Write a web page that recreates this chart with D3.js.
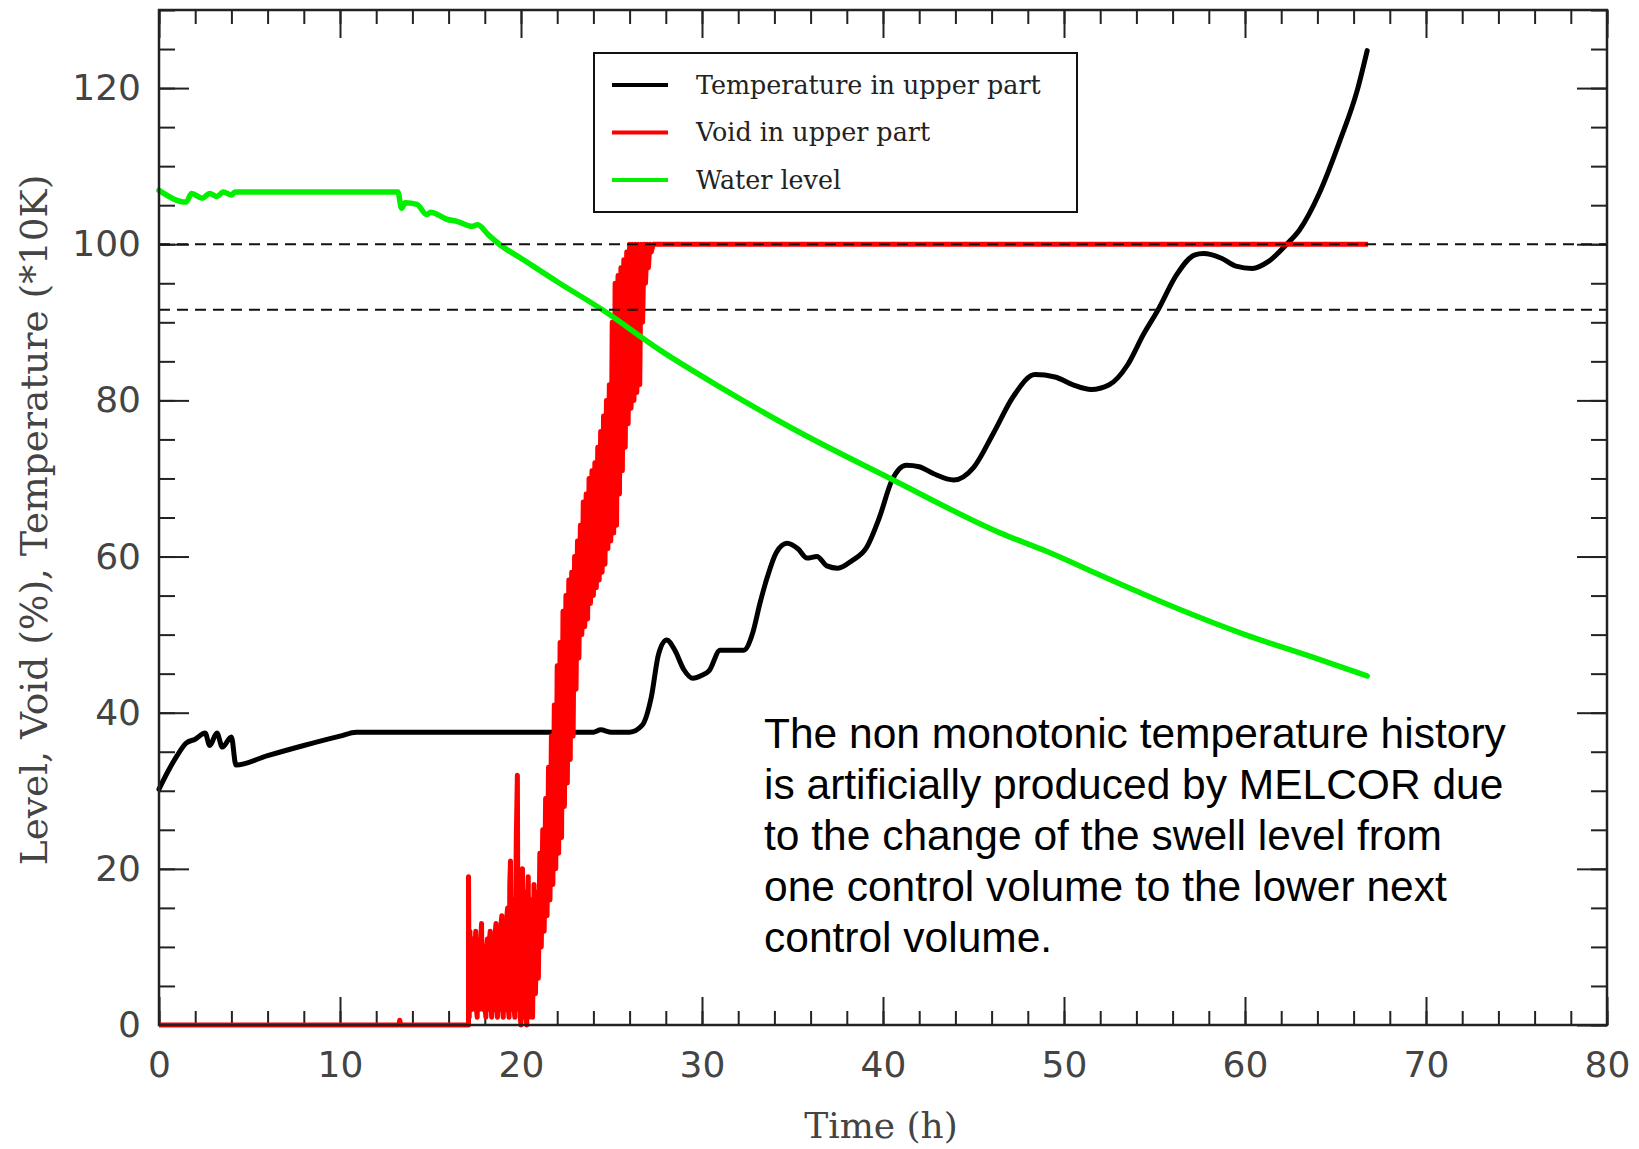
<!DOCTYPE html>
<html>
<head>
<meta charset="utf-8">
<script src="https://cdn.jsdelivr.net/npm/d3@7"></script>
<style>
  body { margin: 0; background: #fff; }
  svg { display: block; }
</style>
</head>
<body>
<div id="chart"></div>
<script>
// [time (h), value] -- temperature is in units of 10 K
var temperature = [
  [0, 30.2], [0.5, 32.5], [1.0, 34.5], [1.5, 36.1], [2.0, 36.6], [2.55, 37.4], [2.8, 35.8],
  [3.2, 37.4], [3.5, 35.6], [4.0, 36.9], [4.25, 33.3], [6, 34.5], [8, 35.8], [10, 37],
  [10.9, 37.5], [24.0, 37.5], [24.4, 37.8], [25, 37.5], [26.0, 37.5], [26.7, 38.4],
  [27.2, 42], [27.6, 47.5], [28.05, 49.3], [28.5, 48], [29.0, 45.5], [29.5, 44.4],
  [30.0, 44.8], [30.4, 45.4], [31.0, 48], [32.3, 48], [32.8, 50.2], [33.2, 54], [33.6, 57.3],
  [34.1, 60.5], [34.7, 61.7], [35.3, 61], [35.8, 59.8], [36.35, 60], [36.9, 58.8],
  [37.5, 58.5], [38.3, 59.5], [39.1, 61.2], [39.8, 65], [40.5, 69.8], [41.3, 71.7],
  [42.0, 71.5], [42.8, 70.6], [43.9, 69.8], [45, 71.4], [46.1, 75.8], [47.2, 80.5],
  [48.4, 83.3], [49.5, 83], [50.5, 82], [51.5, 81.4], [52.5, 82], [53.5, 84.5],
  [54.4, 88.5], [55.2, 91.6], [56.2, 96], [57.2, 98.6], [57.7, 98.8], [58.7, 98.2],
  [59.5, 97.2], [60.4, 96.9], [61.3, 97.8], [62.3, 100], [63.0, 101.8], [64.1, 106.5],
  [65.25, 113.3], [66.2, 119.7], [66.75, 124.8]
];

var waterLevel = [
  [0, 106.9], [1.5, 105.4], [1.8, 106.5], [2.4, 105.9], [2.8, 106.5], [3.2, 106.1],
  [3.55, 106.7], [4.0, 106.3], [4.2, 106.7], [13.2, 106.7], [13.4, 104.6], [13.6, 105.3],
  [14.25, 105.1], [14.8, 103.8], [15, 104.1], [15.9, 103.2], [16.5, 102.9], [17.3, 102.3],
  [17.6, 102.5], [18.2, 101.2], [18.8, 100], [20, 98.2], [22, 95.2], [24.5, 91.6],
  [27.7, 86.4], [31, 81.7], [35, 76.4], [40.4, 70], [46.5, 63], [49, 60.7], [52.2, 57.4],
  [56, 53.6], [60, 50], [63.5, 47.3], [66.75, 44.7]
];

var voidFraction = [
  [0, 0], [13.25, 0], [13.3, 0.6], [13.35, 0], [17.1, 0],
  [17.1, 19], [17.14, 1], [17.18, 12], [17.22, 3], [17.26, 9], [17.3, 2], [17.34, 11], [17.38, 4],
  [17.42, 3], [17.46, 10], [17.5, 12], [17.54, 2], [17.58, 1], [17.62, 8], [17.66, 9], [17.7, 2],
  [17.74, 3], [17.78, 11], [17.82, 13], [17.86, 3], [17.9, 2], [17.94, 9], [17.98, 10], [18.02, 2],
  [18.06, 1], [18.1, 10], [18.14, 11], [18.18, 2], [18.22, 4], [18.26, 11], [18.3, 12], [18.34, 3],
  [18.38, 1], [18.42, 8], [18.46, 9], [18.5, 3], [18.54, 2], [18.58, 12], [18.62, 13], [18.66, 2],
  [18.7, 1], [18.74, 10], [18.78, 11], [18.82, 2], [18.86, 3], [18.9, 13], [18.94, 14], [18.98, 2],
  [19.02, 1], [19.06, 11], [19.1, 12], [19.14, 3], [19.18, 2], [19.22, 14], [19.26, 15], [19.3, 2],
  [19.34, 1], [19.38, 18], [19.42, 21], [19.46, 2], [19.5, 3], [19.54, 15], [19.58, 16], [19.62, 2],
  [19.66, 1], [19.74, 24], [19.8, 32], [19.84, 2], [19.88, 14], [19.92, 18], [19.96, 1], [20.0, 0],
  [20.04, 17], [20.08, 20], [20.12, 2], [20.16, 1], [20.2, 15], [20.24, 17], [20.28, 1],
  [20.32, 0], [20.36, 16], [20.4, 19], [20.44, 1], [20.48, 2], [20.52, 15], [20.56, 16], [20.6, 2],
  [20.64, 1], [20.72, 18], [20.8, 4], [20.88, 17], [20.96, 6], [21.04, 22], [21.12, 10],
  [21.2, 25], [21.28, 12], [21.36, 29], [21.44, 14], [21.52, 33], [21.6, 16], [21.68, 37],
  [21.76, 18], [21.84, 41], [21.92, 20], [22.0, 46], [22.08, 22], [22.16, 49], [22.24, 24],
  [22.32, 53], [22.4, 28], [22.48, 55], [22.56, 31], [22.64, 57], [22.72, 34], [22.8, 58],
  [22.88, 37], [22.96, 60], [23.04, 43], [23.12, 62], [23.2, 47], [23.28, 64], [23.36, 50],
  [23.44, 67], [23.52, 51], [23.6, 68], [23.68, 52], [23.76, 70], [23.84, 54], [23.92, 71],
  [24.0, 55], [24.08, 72], [24.16, 56], [24.24, 74], [24.32, 57], [24.4, 76], [24.48, 58],
  [24.56, 78], [24.64, 59], [24.72, 80], [24.8, 61], [24.88, 82], [24.96, 62], [25.04, 90],
  [25.12, 63], [25.2, 95], [25.28, 64], [25.36, 96], [25.44, 68], [25.52, 97], [25.6, 71],
  [25.68, 98], [25.76, 74], [25.84, 99], [25.92, 77], [26.0, 100], [26.08, 79], [26.16, 100],
  [26.24, 80], [26.32, 100], [26.4, 81], [26.48, 100], [26.56, 82], [26.64, 100], [26.72, 90],
  [26.8, 100], [26.88, 95], [26.96, 100], [27.04, 97], [27.12, 100], [27.2, 99], [27.3, 100],
  [66.8, 100]
];

var refLevels = [100, 91.6];
var seriesNames = ["Temperature in upper part", "Void in upper part", "Water level"];
var seriesColors = ["#000000", "#ff0000", "#00f000"];
var xMajor = [0, 10, 20, 30, 40, 50, 60, 70, 80];
var yMajor = [0, 20, 40, 60, 80, 100, 120];
var noteLines = [
  "The non monotonic temperature history",
  "is artificially produced by MELCOR due",
  "to the change of the swell level from",
  "one control volume to the lower next",
  "control volume."
];

const width = 1639;
const height = 1149;
const plotL = 159, plotR = 1607, plotT = 10, plotB = 1025;

const x = d3.scaleLinear().domain([0, 80]).range([plotL, plotR]);
const y = d3.scaleLinear().domain([0, 130]).range([plotB, plotT]);

const svg = d3.select("#chart").append("svg")
  .attr("width", width)
  .attr("height", height)
  .style("background", "#fff");

// ticks on all four sides, pointing inward
function ticks(axis, pos, values, len, labels) {
  const g = svg.append("g")
    .attr("transform", pos)
    .call(axis.tickValues(values).tickSizeInner(-len).tickSizeOuter(0)
      .tickPadding(labels ? 18 : 0)
      .tickFormat(labels ? d3.format("d") : ""));
  g.select(".domain").remove();
  g.selectAll("line").attr("stroke", "#222").attr("stroke-width", 2);
  g.selectAll("text")
    .attr("font-family", "'DejaVu Sans', sans-serif")
    .attr("font-size", 36)
    .attr("fill", "#444");
  return g;
}

const xMinor = d3.range(0, 81, 2);
const yMinor = d3.range(0, 131, 5);

ticks(d3.axisBottom(x), `translate(0,${plotB})`, xMinor, 14, false);
ticks(d3.axisBottom(x), `translate(0,${plotB})`, xMajor, 28, true)
  .selectAll("text").attr("dy", "0.71em").attr("y", 26);
ticks(d3.axisTop(x), `translate(0,${plotT})`, xMinor, 14, false);
ticks(d3.axisTop(x), `translate(0,${plotT})`, xMajor, 28, false);
ticks(d3.axisLeft(y), `translate(${plotL},0)`, yMinor, 16, false);
ticks(d3.axisLeft(y), `translate(${plotL},0)`, yMajor, 30, true);
ticks(d3.axisRight(y), `translate(${plotR},0)`, yMinor, 16, false);
ticks(d3.axisRight(y), `translate(${plotR},0)`, yMajor, 30, false);

const line = d3.line()
  .x(d => x(d[0]))
  .y(d => y(d[1]));

// black first, then red, then green on top
svg.append("path")
  .datum(temperature)
  .attr("fill", "none")
  .attr("stroke", seriesColors[0])
  .attr("stroke-width", 5)
  .attr("stroke-linejoin", "round")
  .attr("stroke-linecap", "round")
  .attr("d", line.curve(d3.curveMonotoneX));

svg.append("path")
  .datum(voidFraction)
  .attr("fill", "none")
  .attr("stroke", seriesColors[1])
  .attr("stroke-width", 5)
  .attr("stroke-linejoin", "round")
  .attr("d", line.curve(d3.curveLinear));

svg.append("path")
  .datum(waterLevel)
  .attr("fill", "none")
  .attr("stroke", seriesColors[2])
  .attr("stroke-width", 5.5)
  .attr("stroke-linejoin", "round")
  .attr("stroke-linecap", "round")
  .attr("d", line.curve(d3.curveMonotoneX));

svg.selectAll("line.ref")
  .data(refLevels)
  .enter()
  .append("line")
  .attr("class", "ref")
  .attr("x1", plotL)
  .attr("x2", plotR)
  .attr("y1", d => y(d))
  .attr("y2", d => y(d))
  .attr("stroke", "#111")
  .attr("stroke-width", 2)
  .attr("stroke-dasharray", "11,7");

// frame
svg.append("rect")
  .attr("x", plotL)
  .attr("y", plotT)
  .attr("width", plotR - plotL)
  .attr("height", plotB - plotT)
  .attr("fill", "none")
  .attr("stroke", "#222")
  .attr("stroke-width", 2.5);

// legend
const legend = svg.append("g");
legend.append("rect")
  .attr("x", 594).attr("y", 53)
  .attr("width", 483).attr("height", 159)
  .attr("fill", "#fff")
  .attr("stroke", "#111")
  .attr("stroke-width", 2);

const items = legend.selectAll("g.item")
  .data(seriesNames)
  .enter()
  .append("g")
  .attr("class", "item")
  .attr("transform", (d, i) => `translate(0,${85 + i * 47.5})`);

items.append("line")
  .attr("x1", 612).attr("x2", 668)
  .attr("stroke", (d, i) => seriesColors[i])
  .attr("stroke-width", 4);

items.append("text")
  .attr("x", 696)
  .attr("y", 8.5)
  .attr("font-family", "'DejaVu Serif', serif")
  .attr("font-size", 25.4)
  .attr("fill", "#222")
  .text(d => d);

// axis titles
svg.append("text")
  .attr("transform", "translate(47,520) rotate(-90)")
  .attr("text-anchor", "middle")
  .attr("font-family", "'DejaVu Serif', serif")
  .attr("font-size", 37.5)
  .attr("fill", "#444")
  .text("Level, Void (%), Temperature (*10K)");

svg.append("text")
  .attr("x", 881)
  .attr("y", 1138)
  .attr("text-anchor", "middle")
  .attr("font-family", "'DejaVu Serif', serif")
  .attr("font-size", 36)
  .attr("fill", "#444")
  .text("Time (h)");

// annotation
svg.append("text")
  .attr("font-family", "'Liberation Sans', Arial, sans-serif")
  .attr("font-size", 42.5)
  .attr("fill", "#000")
  .selectAll("tspan")
  .data(noteLines)
  .enter()
  .append("tspan")
  .attr("x", 764)
  .attr("y", (d, i) => 747.5 + i * 51)
  .text(d => d);
</script>
</body>
</html>
